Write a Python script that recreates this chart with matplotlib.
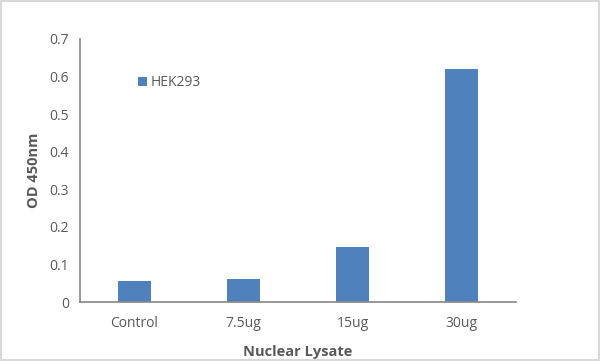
import numpy as np
import matplotlib.pyplot as plt

categories = ['Control', '7.5ug', '15ug', '30ug']
od450 = [0.055, 0.061, 0.146, 0.621]
yticks = [0, 0.1, 0.2, 0.3, 0.4, 0.5, 0.6, 0.7]

plt.rcParams['font.family'] = ['Open Sans', 'DejaVu Sans']

fig = plt.figure(figsize=(6, 3.61), dpi=100)
ax = fig.add_axes([0.1333, 0.1634, 0.7267, 0.7286])

x = np.arange(len(categories))
ax.bar(x, od450, width=0.31, color='#4f81bd', label='HEK293', zorder=2)

ax.set_xlim(-0.5, 3.5)
ax.set_ylim(0, 0.7)
ax.set_xticks(x)
ax.set_xticklabels(categories)
ax.set_yticks(yticks)
ax.set_yticklabels(['0', '0.1', '0.2', '0.3', '0.4', '0.5', '0.6', '0.7'])
ax.tick_params(length=0, colors='#595959', labelsize=10, pad=8)
ax.tick_params(axis='x', pad=10)

for s in ['top', 'right']:
    ax.spines[s].set_visible(False)
for s in ['left', 'bottom']:
    ax.spines[s].set_color('#868686')
    ax.spines[s].set_linewidth(1.2)

ax.set_xlabel('Nuclear Lysate', fontsize=10.5, fontweight='bold', color='#595959', labelpad=10)
ax.set_ylabel('OD 450nm', fontsize=10.5, fontweight='bold', color='#595959', labelpad=6)

leg = ax.legend(loc='upper left', bbox_to_anchor=(0.105, 0.91), frameon=False,
                handlelength=0.6, handleheight=0.6, handletextpad=0.3, fontsize=10)
for t in leg.get_texts():
    t.set_color('#595959')

# light border around the whole picture
fig.patches.append(plt.Rectangle((0.002, 0.003), 0.996, 0.994, transform=fig.transFigure,
                                 fill=False, edgecolor='#d9d9d9', linewidth=1.5))

fig.savefig('out.png', dpi=100)
